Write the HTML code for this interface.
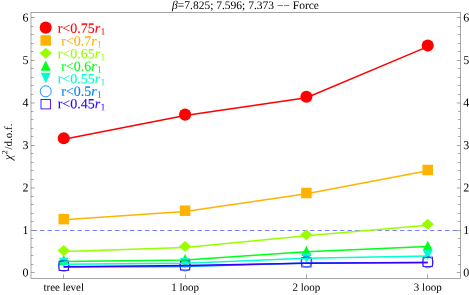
<!DOCTYPE html><html><head><meta charset="utf-8"><style>html,body{margin:0;padding:0;background:#fff}</style></head><body><svg width="469" height="295" viewBox="0 0 469 295" style="display:block;filter:opacity(1);will-change:transform;text-rendering:geometricPrecision;font-family:'Liberation Serif',serif">
<rect width="469" height="295" fill="#fff"/>
<line x1="32.44" y1="230.5" x2="460.5" y2="230.5" stroke="#8080ff" stroke-width="1" stroke-dasharray="4.5 3"/>
<rect x="31.0" y="12.5" width="429.5" height="265.9" fill="none" stroke="#808080" stroke-width="0.7"/>
<line x1="31.0" y1="272.50" x2="34.7" y2="272.50" stroke="#808080" stroke-width="0.7"/>
<line x1="460.5" y1="272.50" x2="456.8" y2="272.50" stroke="#808080" stroke-width="0.7"/>
<line x1="31.0" y1="264.50" x2="33.4" y2="264.50" stroke="#808080" stroke-width="0.7"/>
<line x1="460.5" y1="264.50" x2="458.1" y2="264.50" stroke="#808080" stroke-width="0.7"/>
<line x1="31.0" y1="255.50" x2="33.4" y2="255.50" stroke="#808080" stroke-width="0.7"/>
<line x1="460.5" y1="255.50" x2="458.1" y2="255.50" stroke="#808080" stroke-width="0.7"/>
<line x1="31.0" y1="247.50" x2="33.4" y2="247.50" stroke="#808080" stroke-width="0.7"/>
<line x1="460.5" y1="247.50" x2="458.1" y2="247.50" stroke="#808080" stroke-width="0.7"/>
<line x1="31.0" y1="238.50" x2="33.4" y2="238.50" stroke="#808080" stroke-width="0.7"/>
<line x1="460.5" y1="238.50" x2="458.1" y2="238.50" stroke="#808080" stroke-width="0.7"/>
<line x1="31.0" y1="230.50" x2="34.7" y2="230.50" stroke="#808080" stroke-width="0.7"/>
<line x1="460.5" y1="230.50" x2="456.8" y2="230.50" stroke="#808080" stroke-width="0.7"/>
<line x1="31.0" y1="221.50" x2="33.4" y2="221.50" stroke="#808080" stroke-width="0.7"/>
<line x1="460.5" y1="221.50" x2="458.1" y2="221.50" stroke="#808080" stroke-width="0.7"/>
<line x1="31.0" y1="213.50" x2="33.4" y2="213.50" stroke="#808080" stroke-width="0.7"/>
<line x1="460.5" y1="213.50" x2="458.1" y2="213.50" stroke="#808080" stroke-width="0.7"/>
<line x1="31.0" y1="204.50" x2="33.4" y2="204.50" stroke="#808080" stroke-width="0.7"/>
<line x1="460.5" y1="204.50" x2="458.1" y2="204.50" stroke="#808080" stroke-width="0.7"/>
<line x1="31.0" y1="196.50" x2="33.4" y2="196.50" stroke="#808080" stroke-width="0.7"/>
<line x1="460.5" y1="196.50" x2="458.1" y2="196.50" stroke="#808080" stroke-width="0.7"/>
<line x1="31.0" y1="188.00" x2="34.7" y2="188.00" stroke="#808080" stroke-width="0.7"/>
<line x1="460.5" y1="188.00" x2="456.8" y2="188.00" stroke="#808080" stroke-width="0.7"/>
<line x1="31.0" y1="179.50" x2="33.4" y2="179.50" stroke="#808080" stroke-width="0.7"/>
<line x1="460.5" y1="179.50" x2="458.1" y2="179.50" stroke="#808080" stroke-width="0.7"/>
<line x1="31.0" y1="170.50" x2="33.4" y2="170.50" stroke="#808080" stroke-width="0.7"/>
<line x1="460.5" y1="170.50" x2="458.1" y2="170.50" stroke="#808080" stroke-width="0.7"/>
<line x1="31.0" y1="162.50" x2="33.4" y2="162.50" stroke="#808080" stroke-width="0.7"/>
<line x1="460.5" y1="162.50" x2="458.1" y2="162.50" stroke="#808080" stroke-width="0.7"/>
<line x1="31.0" y1="153.50" x2="33.4" y2="153.50" stroke="#808080" stroke-width="0.7"/>
<line x1="460.5" y1="153.50" x2="458.1" y2="153.50" stroke="#808080" stroke-width="0.7"/>
<line x1="31.0" y1="145.50" x2="34.7" y2="145.50" stroke="#808080" stroke-width="0.7"/>
<line x1="460.5" y1="145.50" x2="456.8" y2="145.50" stroke="#808080" stroke-width="0.7"/>
<line x1="31.0" y1="136.50" x2="33.4" y2="136.50" stroke="#808080" stroke-width="0.7"/>
<line x1="460.5" y1="136.50" x2="458.1" y2="136.50" stroke="#808080" stroke-width="0.7"/>
<line x1="31.0" y1="128.50" x2="33.4" y2="128.50" stroke="#808080" stroke-width="0.7"/>
<line x1="460.5" y1="128.50" x2="458.1" y2="128.50" stroke="#808080" stroke-width="0.7"/>
<line x1="31.0" y1="119.50" x2="33.4" y2="119.50" stroke="#808080" stroke-width="0.7"/>
<line x1="460.5" y1="119.50" x2="458.1" y2="119.50" stroke="#808080" stroke-width="0.7"/>
<line x1="31.0" y1="111.50" x2="33.4" y2="111.50" stroke="#808080" stroke-width="0.7"/>
<line x1="460.5" y1="111.50" x2="458.1" y2="111.50" stroke="#808080" stroke-width="0.7"/>
<line x1="31.0" y1="103.00" x2="34.7" y2="103.00" stroke="#808080" stroke-width="0.7"/>
<line x1="460.5" y1="103.00" x2="456.8" y2="103.00" stroke="#808080" stroke-width="0.7"/>
<line x1="31.0" y1="94.50" x2="33.4" y2="94.50" stroke="#808080" stroke-width="0.7"/>
<line x1="460.5" y1="94.50" x2="458.1" y2="94.50" stroke="#808080" stroke-width="0.7"/>
<line x1="31.0" y1="85.50" x2="33.4" y2="85.50" stroke="#808080" stroke-width="0.7"/>
<line x1="460.5" y1="85.50" x2="458.1" y2="85.50" stroke="#808080" stroke-width="0.7"/>
<line x1="31.0" y1="77.50" x2="33.4" y2="77.50" stroke="#808080" stroke-width="0.7"/>
<line x1="460.5" y1="77.50" x2="458.1" y2="77.50" stroke="#808080" stroke-width="0.7"/>
<line x1="31.0" y1="68.50" x2="33.4" y2="68.50" stroke="#808080" stroke-width="0.7"/>
<line x1="460.5" y1="68.50" x2="458.1" y2="68.50" stroke="#808080" stroke-width="0.7"/>
<line x1="31.0" y1="60.50" x2="34.7" y2="60.50" stroke="#808080" stroke-width="0.7"/>
<line x1="460.5" y1="60.50" x2="456.8" y2="60.50" stroke="#808080" stroke-width="0.7"/>
<line x1="31.0" y1="51.50" x2="33.4" y2="51.50" stroke="#808080" stroke-width="0.7"/>
<line x1="460.5" y1="51.50" x2="458.1" y2="51.50" stroke="#808080" stroke-width="0.7"/>
<line x1="31.0" y1="43.50" x2="33.4" y2="43.50" stroke="#808080" stroke-width="0.7"/>
<line x1="460.5" y1="43.50" x2="458.1" y2="43.50" stroke="#808080" stroke-width="0.7"/>
<line x1="31.0" y1="34.50" x2="33.4" y2="34.50" stroke="#808080" stroke-width="0.7"/>
<line x1="460.5" y1="34.50" x2="458.1" y2="34.50" stroke="#808080" stroke-width="0.7"/>
<line x1="31.0" y1="26.50" x2="33.4" y2="26.50" stroke="#808080" stroke-width="0.7"/>
<line x1="460.5" y1="26.50" x2="458.1" y2="26.50" stroke="#808080" stroke-width="0.7"/>
<line x1="31.0" y1="17.50" x2="34.7" y2="17.50" stroke="#808080" stroke-width="0.7"/>
<line x1="460.5" y1="17.50" x2="456.8" y2="17.50" stroke="#808080" stroke-width="0.7"/>
<line x1="63.50" y1="278.4" x2="63.50" y2="274.4" stroke="#808080" stroke-width="0.7"/>
<line x1="185.50" y1="278.4" x2="185.50" y2="274.4" stroke="#808080" stroke-width="0.7"/>
<line x1="306.50" y1="278.4" x2="306.50" y2="274.4" stroke="#808080" stroke-width="0.7"/>
<line x1="427.50" y1="278.4" x2="427.50" y2="274.4" stroke="#808080" stroke-width="0.7"/>
<text x="28.4" y="276.60" transform="rotate(0.03 28.4 276.60)" font-size="12" text-anchor="end" fill="#000">0</text>
<text x="463.3" y="276.60" transform="rotate(0.03 463.3 276.60)" font-size="12" text-anchor="start" fill="#000">0</text>
<text x="28.4" y="234.10" transform="rotate(0.03 28.4 234.10)" font-size="12" text-anchor="end" fill="#000">1</text>
<text x="463.3" y="234.10" transform="rotate(0.03 463.3 234.10)" font-size="12" text-anchor="start" fill="#000">1</text>
<text x="28.4" y="191.60" transform="rotate(0.03 28.4 191.60)" font-size="12" text-anchor="end" fill="#000">2</text>
<text x="463.3" y="191.60" transform="rotate(0.03 463.3 191.60)" font-size="12" text-anchor="start" fill="#000">2</text>
<text x="28.4" y="149.10" transform="rotate(0.03 28.4 149.10)" font-size="12" text-anchor="end" fill="#000">3</text>
<text x="463.3" y="149.10" transform="rotate(0.03 463.3 149.10)" font-size="12" text-anchor="start" fill="#000">3</text>
<text x="28.4" y="106.60" transform="rotate(0.03 28.4 106.60)" font-size="12" text-anchor="end" fill="#000">4</text>
<text x="463.3" y="106.60" transform="rotate(0.03 463.3 106.60)" font-size="12" text-anchor="start" fill="#000">4</text>
<text x="28.4" y="64.10" transform="rotate(0.03 28.4 64.10)" font-size="12" text-anchor="end" fill="#000">5</text>
<text x="463.3" y="64.10" transform="rotate(0.03 463.3 64.10)" font-size="12" text-anchor="start" fill="#000">5</text>
<text x="28.4" y="21.60" transform="rotate(0.03 28.4 21.60)" font-size="12" text-anchor="end" fill="#000">6</text>
<text x="463.3" y="21.60" transform="rotate(0.03 463.3 21.60)" font-size="12" text-anchor="start" fill="#000">6</text>
<text x="63.75" y="290.8" transform="rotate(0.03 63.75 290.8)" font-size="11" text-anchor="middle" fill="#000">tree level</text>
<text x="185.08" y="290.8" transform="rotate(0.03 185.08 290.8)" font-size="11" text-anchor="middle" fill="#000">1 loop</text>
<text x="306.41" y="290.8" transform="rotate(0.03 306.41 290.8)" font-size="11" text-anchor="middle" fill="#000">2 loop</text>
<text x="427.74" y="290.8" transform="rotate(0.03 427.74 290.8)" font-size="11" text-anchor="middle" fill="#000">3 loop</text>
<text id="title" x="245.5" y="8.9" transform="rotate(0.03 245.5 8.9)" font-size="11.5" text-anchor="middle" fill="#000"><tspan font-style="italic">β</tspan>=7.825; 7.596; 7.373 −− Force</text>
<text id="ylab" transform="translate(11.9,159.9) rotate(-90.03)" font-size="11" text-anchor="start" fill="#000"><tspan font-style="italic" font-size="12">χ</tspan><tspan font-size="8" dy="-4.6" dx="0.3">2</tspan><tspan dy="4.6" dx="0.8">/d.o.f.</tspan></text>
<circle cx="63.75" cy="138.28" r="6.05" fill="#ff0000"/>
<circle cx="185.08" cy="114.61" r="6.05" fill="#ff0000"/>
<circle cx="306.41" cy="96.76" r="6.05" fill="#ff0000"/>
<circle cx="427.74" cy="45.59" r="6.05" fill="#ff0000"/>
<rect x="58.50" y="213.91" width="10.5" height="10.5" fill="#ffb300"/>
<rect x="179.83" y="205.45" width="10.5" height="10.5" fill="#ffb300"/>
<rect x="301.16" y="187.77" width="10.5" height="10.5" fill="#ffb300"/>
<rect x="422.49" y="164.74" width="10.5" height="10.5" fill="#ffb300"/>
<path d="M57.55 250.40L63.75 244.90L69.95 250.40L63.75 255.90Z" fill="#99ff00"/>
<path d="M178.88 246.57L185.08 241.07L191.28 246.57L185.08 252.07Z" fill="#99ff00"/>
<path d="M300.21 234.68L306.41 229.18L312.61 234.68L306.41 240.18Z" fill="#99ff00"/>
<path d="M421.54 224.13L427.74 218.63L433.94 224.13L427.74 229.63Z" fill="#99ff00"/>
<path d="M63.75 255.12L68.75 265.22L58.75 265.22Z" fill="#00ff1a"/>
<path d="M185.08 254.06L190.08 264.16L180.08 264.16Z" fill="#00ff1a"/>
<path d="M306.41 245.78L311.41 255.88L301.41 255.88Z" fill="#00ff1a"/>
<path d="M427.74 240.67L432.74 250.77L422.74 250.77Z" fill="#00ff1a"/>
<path d="M63.75 268.04L68.75 257.64L58.75 257.64Z" fill="#00ffcc"/>
<path d="M185.08 268.46L190.08 258.06L180.08 258.06Z" fill="#00ffcc"/>
<path d="M306.41 263.06L311.41 252.66L301.41 252.66Z" fill="#00ffcc"/>
<path d="M427.74 260.18L432.74 249.77L422.74 249.77Z" fill="#00ffcc"/>
<circle cx="63.75" cy="265.79" r="5.5" fill="none" stroke="#0080ff" stroke-width="0.9"/>
<circle cx="185.08" cy="265.49" r="5.5" fill="none" stroke="#0080ff" stroke-width="0.9"/>
<circle cx="306.41" cy="261.60" r="5.5" fill="none" stroke="#0080ff" stroke-width="0.9"/>
<circle cx="427.74" cy="262.38" r="5.5" fill="none" stroke="#0080ff" stroke-width="0.9"/>
<rect x="59.05" y="261.04" width="9.4" height="9.4" fill="none" stroke="#3300ff" stroke-width="0.9"/>
<rect x="180.38" y="260.62" width="9.4" height="9.4" fill="none" stroke="#3300ff" stroke-width="0.9"/>
<rect x="301.71" y="257.56" width="9.4" height="9.4" fill="none" stroke="#3300ff" stroke-width="0.9"/>
<rect x="423.04" y="257.09" width="9.4" height="9.4" fill="none" stroke="#3300ff" stroke-width="0.9"/>
<polyline points="63.75,139.28 185.08,115.61 306.41,97.76 427.74,46.59" fill="none" stroke="#ff0000" stroke-width="1.5"/>
<polyline points="63.75,219.86 185.08,211.40 306.41,193.72 427.74,170.69" fill="none" stroke="#ffb300" stroke-width="1.5"/>
<polyline points="63.75,251.40 185.08,247.57 306.41,235.68 427.74,225.13" fill="none" stroke="#99ff00" stroke-width="1.5"/>
<polyline points="63.75,261.54 185.08,259.96 306.41,251.68 427.74,246.57" fill="none" stroke="#00ff1a" stroke-width="1.5"/>
<polyline points="63.75,264.30 185.08,263.30 306.41,258.13 427.74,255.97" fill="none" stroke="#00ffcc" stroke-width="1.5"/>
<polyline points="63.75,266.89 185.08,266.42 306.41,263.06 427.74,262.47" fill="none" stroke="#0080ff" stroke-width="1.5"/>
<polyline points="63.75,266.81 185.08,265.57 306.41,263.24 427.74,262.60" fill="none" stroke="#3300ff" stroke-width="1.5"/>
<circle cx="45.70" cy="27.60" r="6.05" fill="#ff0000"/>
<text x="81.5" y="32.70" transform="rotate(0.03 81.5 32.70)" font-size="14" text-anchor="middle" fill="#ff0000" stroke="#ff0000" stroke-width="0.1">r&lt;0.75<tspan font-style="italic">r</tspan><tspan font-size="9.8" dy="2.0" dx="0.3" stroke="none">1</tspan></text>
<rect x="40.45" y="35.15" width="10.5" height="10.5" fill="#ffb300"/>
<text x="81.5" y="45.60" transform="rotate(0.03 81.5 45.60)" font-size="14" text-anchor="middle" fill="#ffb300" stroke="#ffb300" stroke-width="0.1">r&lt;0.7<tspan font-style="italic">r</tspan><tspan font-size="9.8" dy="2.0" dx="0.3" stroke="none">1</tspan></text>
<path d="M39.50 53.20L45.70 47.70L51.90 53.20L45.70 58.70Z" fill="#99ff00"/>
<text x="81.5" y="58.20" transform="rotate(0.03 81.5 58.20)" font-size="14" text-anchor="middle" fill="#99ff00" stroke="#99ff00" stroke-width="0.1">r&lt;0.65<tspan font-style="italic">r</tspan><tspan font-size="9.8" dy="2.0" dx="0.3" stroke="none">1</tspan></text>
<path d="M45.70 60.60L50.70 70.70L40.70 70.70Z" fill="#00ff1a"/>
<text x="81.5" y="70.80" transform="rotate(0.03 81.5 70.80)" font-size="14" text-anchor="middle" fill="#00ff1a" stroke="#00ff1a" stroke-width="0.1">r&lt;0.6<tspan font-style="italic">r</tspan><tspan font-size="9.8" dy="2.0" dx="0.3" stroke="none">1</tspan></text>
<path d="M45.70 83.20L50.70 72.80L40.70 72.80Z" fill="#00ffcc"/>
<text x="81.5" y="83.20" transform="rotate(0.03 81.5 83.20)" font-size="14" text-anchor="middle" fill="#00ffcc" stroke="#00ffcc" stroke-width="0.1">r&lt;0.55<tspan font-style="italic">r</tspan><tspan font-size="9.8" dy="2.0" dx="0.3" stroke="none">1</tspan></text>
<circle cx="45.70" cy="91.30" r="5.5" fill="none" stroke="#0080ff" stroke-width="0.9"/>
<text x="81.5" y="95.80" transform="rotate(0.03 81.5 95.80)" font-size="14" text-anchor="middle" fill="#0080ff" stroke="#0080ff" stroke-width="0.1">r&lt;0.5<tspan font-style="italic">r</tspan><tspan font-size="9.8" dy="2.0" dx="0.3" stroke="none">1</tspan></text>
<rect x="41.00" y="99.50" width="9.4" height="9.4" fill="none" stroke="#3300ff" stroke-width="0.9"/>
<text x="81.5" y="108.30" transform="rotate(0.03 81.5 108.30)" font-size="14" text-anchor="middle" fill="#3300ff" stroke="#3300ff" stroke-width="0.1">r&lt;0.45<tspan font-style="italic">r</tspan><tspan font-size="9.8" dy="2.0" dx="0.3" stroke="none">1</tspan></text>
</svg></body></html>
